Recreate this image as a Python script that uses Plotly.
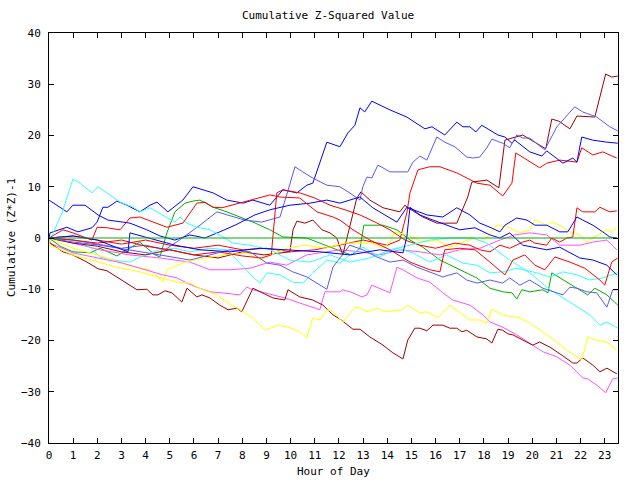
import plotly.graph_objects as go

title_text = "Cumulative Z-Squared Value"
x_title = "Hour of Day"
y_title = "Cumulative (Z*Z)-1"
x_ticks = list(range(0, 24))
y_ticks = [-40, -30, -20, -10, 0, 10, 20, 30, 40]

# ---- series data: (hour, cumulative value) ----
blue1_h = [0, 0.04, 0.74, 1.2, 1.78, 1.99, 2.23, 2.44, 2.81, 3.23, 3.76, 4.18, 4.47, 4.92, 5.54, 5.96, 6.79, 7.36, 8.03, 8.44, 9.14, 9.68, 10.26, 10.67, 10.92, 11.5, 12.04, 12.37, 12.66, 12.87, 13.07, 13.36, 14.11, 14.81, 15.56, 15.85, 16.38, 16.88, 17.13, 17.42, 17.67, 17.91, 18.58, 18.87, 19.16, 19.28, 19.9, 20.4, 20.6, 21.27, 21.68, 21.85, 22.05, 22.5, 23.09, 23.54]
blue1_v = [0, 1.0, 2.1, 1.2, 2.0, 3.1, 6.0, 6.0, 7.2, 6.4, 5.1, 6.4, 7.0, 5.1, 7.4, 10.0, 8.8, 7.4, 6.8, 7.4, 6.4, 9.4, 8.8, 10.3, 10.7, 18.7, 17.8, 20.5, 22.0, 25.4, 24.6, 26.7, 25.0, 23.6, 21.3, 21.7, 20.1, 22.6, 21.7, 21.7, 20.7, 22.0, 20.1, 19.7, 18.5, 19.1, 16.8, 16.0, 17.0, 14.6, 15.6, 14.8, 19.7, 19.1, 18.7, 18.5]

slate1_h = [0, 1, 2, 3, 4, 4.8, 5.4, 6.25, 6.95, 7.36, 8.1, 8.8, 9.56, 9.9, 10.18, 10.5, 10.92, 11.5, 12.04, 12.45, 12.87, 12.99, 13.16, 13.36, 13.61, 13.82, 14.11, 14.85, 15.06, 15.35, 15.64, 16.05, 16.38, 16.8, 17.29, 17.54, 17.83, 18.12, 18.33, 18.78, 19.07, 19.36, 19.61, 19.9, 20.52, 21.02, 21.27, 21.76, 22.09, 22.67, 23.21, 23.54]
slate1_v = [0, -0.4, -1.2, -2.0, -1.4, -2.3, -0.4, 2.5, 5.1, 4.5, 3.5, 3.1, 4.1, 9.4, 13.9, 12.9, 11.7, 10.3, 10.0, 8.8, 7.4, 10.0, 11.9, 11.7, 14.2, 13.7, 12.9, 12.9, 14.8, 16.0, 15.2, 19.7, 18.7, 17.8, 15.8, 15.6, 15.8, 17.6, 19.3, 18.5, 17.6, 20.1, 19.5, 19.5, 17.2, 21.7, 23.0, 25.6, 24.6, 23.6, 21.7, 20.9]

dred1_h = [0, 1, 2, 3, 4, 5, 6, 7, 8, 8.9, 9.97, 10.1, 10.26, 10.59, 10.92, 11.3, 11.63, 11.91, 12.16, 12.74, 12.91, 13.28, 13.82, 14.52, 14.73, 14.85, 15.47, 16.05, 16.88, 17.33, 17.5, 18.12, 18.25, 18.62, 18.87, 19.61, 20.56, 20.81, 21.1, 21.56, 21.85, 22.59, 23.04, 23.29, 23.54]
dred1_v = [0, -1.0, -1.6, -2.7, -3.3, -2.3, -3.3, -3.9, -2.7, -3.3, -2.7, 1.6, 3.3, 2.9, 3.5, 1.6, 1.0, 0, -3.3, 7.8, 9.0, 7.4, 5.9, 5.1, 6.4, 5.9, 4.1, 2.9, 2.9, 8.0, 10.9, 11.3, 10.9, 9.8, 19.1, 20.1, 17.4, 23.2, 22.8, 21.3, 23.8, 23.6, 32.0, 31.4, 31.6]

red1_h = [0, 1, 2, 3, 4, 5, 6, 7, 8, 9, 10, 11, 12, 13, 14, 14.52, 14.81, 14.94, 15.27, 15.76, 16.18, 16.88, 17.71, 18.25, 18.78, 19.16, 19.32, 19.9, 20.31, 20.6, 21.14, 21.85, 22.05, 22.51, 22.92, 23.5]
red1_v = [0, 0.4, -0.4, -1.2, -0.4, -1.4, -2.0, -1.4, -2.3, -2.0, -2.7, -2.3, -1.4, -0.4, -1.4, -0.4, 4.9, 8.8, 13.3, 13.9, 13.9, 12.7, 10.7, 10.3, 8.2, 10.7, 16.6, 14.8, 13.7, 14.6, 15.2, 14.8, 17.6, 16.2, 16.8, 15.6]

red2_h = [0, 1, 2, 3, 4, 5, 6, 7, 8, 8.8, 9.2, 9.43, 9.68, 10.38, 11, 11.63, 12.25, 12.87, 13.5, 14.11, 14.73, 15.35, 16, 16.8, 17.42, 17.83, 18.25, 18.66, 19.07, 19.61, 19.9, 20.11, 20.6, 20.81, 21.14, 21.43, 21.68, 21.85, 22.09, 22.59, 22.8, 23.21, 23.5]
red2_v = [0, -0.4, -1.0, -0.4, -1.6, -2.3, -3.3, -2.7, -3.5, -3.9, -3.3, 8.8, 9.4, 8.8, 7.8, 6.4, 5.5, 4.5, 3.1, 1.6, -0.4, -1.4, -2.0, -1.0, -1.4, -2.3, -2.7, -1.4, -2.0, -0.8, -0.4, -1.0, -1.4, 0, -0.8, 0, 0.2, 5.9, 5.1, 5.1, 6.0, 5.1, 5.3]

yel1_h = [0, 1, 2, 3.23, 4.18, 4.72, 4.88, 5.63, 6.45, 7.28, 8.19, 8.73, 9.14, 9.85, 10.59, 11.42, 12.25, 13.4, 13.82, 14.11, 14.32, 14.81, 15.47, 16.05, 16.59, 17.13, 17.54, 17.96, 18.54, 19.07, 19.49, 19.9, 20.11, 20.6, 20.81, 21.14, 21.56, 21.97, 22.26, 22.51, 23.09, 23.29, 23.5]
yel1_v = [0, -2.0, -3.3, -5.3, -6.2, -8.6, -6.2, -4.7, -3.9, -3.3, -2.9, -4.3, -3.3, -2.0, -1.4, -2.0, -1.0, -1.0, -2.0, -0.8, 1.2, 0.6, -0.8, -0.4, -1.8, -0.8, 0, -0.8, 2.5, 2.0, 1.0, 1.6, 3.5, 2.5, 3.1, 2.5, 1.2, 0.6, -0.8, 0, 1.6, 1.2, 2.0]

blue2_h = [0, 0.74, 0.99, 1.49, 2.03, 2.44, 3.35, 4.05, 4.59, 5.21, 5.83, 6.45, 7.07, 7.7, 8.52, 9.14, 9.97, 10.8, 11.5, 12.04, 12.45, 12.87, 13.4, 14.4, 14.81, 15.64, 16.3, 16.88, 17.42, 17.83, 18.25, 18.66, 18.87, 19.36, 19.78, 20.11, 20.6, 21.14, 21.47, 21.85, 22.09, 22.51, 22.92, 23.21, 23.5]
blue2_v = [7.4, 5.1, 6.4, 6.4, 4.5, 3.5, 2.9, 1.6, 0.4, -0.4, 0.6, 0, 1.2, 2.5, 4.5, 5.5, 6.4, 6.8, 7.4, 6.8, 7.4, 8.0, 5.9, 3.1, 6.0, 4.5, 4.1, 5.9, 4.5, 2.9, 2.1, 1.2, 2.5, 3.9, 3.5, 2.5, 2.5, 1.2, 1.2, 4.1, 3.5, 2.5, 1.2, 0.2, 0]

mag1_h = [0, 1, 2.11, 3.35, 4.59, 5.83, 6.66, 7.49, 8.32, 9.14, 9.84, 10.67, 11.21, 12.04, 12.87, 13.69, 14.52, 15.35, 16.18, 17, 17.83, 18.66, 19.28, 19.9, 20.6, 21.14, 21.97, 22.51, 23.09, 23.5]
mag1_v = [0, -1.0, -2.3, -3.3, -3.9, -4.7, -6.2, -6.2, -5.9, -4.7, -5.3, -3.3, -2.9, -2.3, -2.7, -3.3, -2.3, -2.7, -3.3, -2.3, -2.0, -0.4, 0.6, 1.0, 0.6, -1.4, -1.4, -0.8, -0.4, -2.3]

red3_h = [0, 0.58, 0.99, 1.78, 1.99, 2.4, 2.94, 3.35, 3.76, 4.47, 4.88, 5.54, 6.12, 6.45, 6.79, 7.16, 7.9, 8.44, 9.14, 9.56, 10.38, 11.09, 11.75, 12.04, 12.33, 12.58, 13.28, 14.11, 14.94, 15.76, 16.18, 16.38, 17, 17.63, 18.25, 18.87, 19.2, 19.69, 20.11, 20.52, 20.94, 21.56, 22.18, 22.8, 23.0, 23.29, 23.54]
red3_v = [0, 1.6, 1.0, -0.4, 2.1, 2.0, 1.6, 3.9, 4.1, 2.9, 2.1, 2.9, 6.8, 7.0, 6.0, 5.9, 6.8, 7.4, 8.4, 8.0, 7.8, 5.1, 4.1, 3.5, 2.5, 1.6, -0.4, -2.3, -4.7, -6.2, -6.6, -2.3, -2.0, -2.3, -4.7, -7.2, -4.3, -3.3, -5.3, -6.2, -3.7, -4.7, -5.9, -8.2, -9.2, -4.7, -3.9]

blue3_h = [0, 1, 2, 2.94, 3.27, 3.35, 3.97, 4.47, 5.21, 6.25, 7.49, 8.73, 9.97, 11.21, 12.45, 13.69, 14.65, 14.81, 14.94, 15.35, 15.89, 16.46, 17, 17.63, 18.25, 18.66, 19.07, 19.61, 20.6, 21.14, 21.47, 21.97, 22.51, 23.09, 23.5]
blue3_v = [0, 0.4, -0.4, -2.0, -2.7, 1.0, 0.2, -0.4, -1.4, -2.3, -2.7, -2.0, -2.3, -2.7, -3.3, -2.3, -2.9, 0.2, 6.0, 4.5, 3.5, 2.5, 1.6, 2.0, 0.6, 0, 1.0, -1.4, -2.3, -1.8, -2.7, -3.9, -4.3, -5.3, -7.2]

cyan1_h = [0, 1, 1.7, 2.11, 2.65, 3.35, 3.97, 4.59, 5.21, 5.83, 6.66, 7.36, 7.9, 8.44, 8.73, 9.02, 9.56, 10.09, 10.51, 10.92, 11.5, 12.04, 12.45, 12.99, 13.69, 14.4, 15.06, 15.76, 16.46, 17.13, 17.71, 18.25, 18.78, 19.36, 20.19, 20.73, 21.27, 21.85, 22.38, 22.92, 23.54]
cyan1_v = [0, -0.4, -1.8, -3.7, -4.3, -4.7, -3.3, -2.3, -2.0, -2.7, -2.0, -2.3, -4.9, -7.6, -8.8, -6.8, -7.2, -8.6, -8.8, -6.8, -4.3, -4.9, -3.3, -1.8, -3.7, -2.0, -2.9, -4.7, -3.3, -4.9, -5.3, -6.8, -6.6, -5.9, -6.8, -7.6, -6.6, -7.2, -8.2, -7.8, -6.8]

slate2_h = [0, 1, 2.11, 3.35, 4.59, 5.83, 6.66, 7.49, 8.32, 9.02, 9.56, 10.09, 10.67, 11.09, 11.5, 11.75, 12.04, 12.45, 12.99, 13.57, 14.11, 14.65, 15.23, 15.76, 16.3, 16.88, 17.29, 17.71, 18.25, 18.78, 19.07, 19.49, 19.9, 20.44, 21.02, 21.27, 21.56, 21.85, 22.26, 22.67, 23.09, 23.33, 23.54]
slate2_v = [0, -0.8, -1.4, -2.3, -3.3, -4.3, -3.3, -2.3, -2.7, -4.9, -5.3, -6.6, -7.6, -8.8, -10.0, -5.7, -3.9, -1.4, -2.3, -3.7, -4.7, -4.3, -5.7, -6.6, -7.6, -6.8, -8.2, -8.8, -8.2, -8.8, -7.8, -9.2, -8.2, -9.8, -10.7, -11.1, -9.6, -9.8, -10.5, -10.7, -13.5, -10.1, -10.1]

green1_h = [0, 0.46, 0.99, 1.7, 2.11, 2.81, 3.23, 3.76, 4.39, 4.59, 4.88, 5.21, 5.63, 5.96, 6.25, 6.79, 7.36, 7.9, 8.44, 9.14, 9.68, 10.67, 11.63, 12.25, 12.54, 12.87, 13.03, 13.4, 13.82, 14.4, 14.94, 15.47, 16.18, 16.88, 17.71, 18.25, 18.78, 19.16, 19.36, 19.57, 19.9, 20.44, 20.65, 20.81, 21.27, 21.85, 22.3, 22.59, 23.09, 23.54]
green1_v = [0, -1.6, -2.7, -2.9, -2.0, -3.5, -2.3, -0.8, -3.3, -3.7, 1.0, 5.1, 6.8, 7.2, 7.4, 6.0, 5.1, 4.1, 3.1, 1.6, 0.2, 0, -1.8, -2.9, -3.3, -2.0, 2.5, 2.5, 2.5, 1.6, -0.4, -1.8, -4.3, -5.9, -7.8, -9.8, -10.5, -10.7, -11.9, -10.1, -10.5, -10.1, -10.7, -6.8, -8.2, -9.8, -11.1, -9.8, -11.1, -13.1]

cyan2_h = [0, 0.04, 0.54, 0.99, 1.28, 1.78, 2.03, 2.52, 2.94, 3.48, 3.76, 4.18, 4.47, 4.88, 5.21, 5.42, 5.71, 6.12, 6.66, 7.2, 7.61, 8.32, 9.14, 9.97, 10.8, 11.63, 12.45, 13.28, 14.11, 14.94, 15.76, 16.59, 17.54, 18.12, 19.07, 19.9, 20.73, 21.56, 22.38, 22.8, 23.09, 23.54]
cyan2_v = [0, -0.4, 4.9, 11.5, 10.7, 8.8, 10.0, 8.4, 7.0, 6.0, 5.1, 5.9, 5.1, 3.9, 3.1, 4.1, 2.9, 2.1, 1.6, 0.2, -1.0, -1.4, -2.3, -4.3, -4.7, -3.3, -4.7, -3.9, -2.3, -1.4, -0.4, 0, 0, -1.0, -4.3, -6.8, -10.1, -12.5, -15.0, -17.0, -16.4, -17.6]

yel2_h = [0, 0.04, 0.99, 1.99, 2.81, 3.76, 4.59, 5.3, 5.83, 6.37, 6.95, 7.36, 7.9, 8.44, 8.94, 9.47, 9.89, 10.38, 10.67, 10.92, 11.21, 11.5, 11.75, 12.16, 12.66, 12.87, 13.16, 13.61, 13.9, 14.6, 14.85, 15.35, 15.64, 16.09, 16.59, 17, 17.42, 17.83, 18.12, 18.33, 18.78, 19.49, 19.9, 20.44, 21.02, 21.43, 21.85, 22.05, 22.3, 22.59, 23.09, 23.5]
yel2_v = [0, -1.4, -3.3, -4.7, -5.7, -6.6, -7.6, -8.6, -8.8, -10.1, -11.1, -12.5, -14.0, -15.6, -18.0, -17.0, -17.4, -18.3, -19.5, -15.6, -16.0, -14.0, -14.4, -16.4, -13.5, -13.7, -14.4, -13.7, -14.4, -14.0, -13.1, -14.6, -14.4, -15.6, -13.1, -14.6, -16.0, -16.0, -16.6, -13.9, -15.0, -15.6, -16.6, -18.3, -20.3, -21.9, -23.2, -23.8, -19.3, -19.9, -20.3, -21.9]

dred2_h = [0, 0.04, 0.58, 0.99, 1.57, 2.03, 2.4, 2.81, 3.35, 3.64, 4.05, 4.3, 4.51, 4.8, 5.09, 5.5, 5.71, 6.12, 6.33, 6.66, 7.07, 7.41, 7.78, 7.98, 8.44, 8.73, 9.27, 9.76, 9.89, 10.38, 10.92, 11.34, 11.75, 12.04, 12.58, 12.87, 13.28, 13.82, 14.23, 14.65, 14.85, 15.14, 15.35, 15.64, 15.89, 16.3, 16.59, 16.88, 17.09, 17.29, 17.71, 18.12, 18.33, 18.58, 18.78, 18.99, 19.2, 19.61, 19.9, 20.02, 20.31, 20.73, 21.27, 21.68, 21.85, 22.09, 22.51, 22.8, 23.09, 23.33, 23.5]
dred2_v = [0, -1.0, -2.7, -3.3, -4.7, -6.0, -6.4, -7.6, -9.2, -10.1, -10.0, -11.1, -11.1, -10.3, -10.7, -12.5, -9.8, -11.5, -11.1, -11.7, -13.1, -14.0, -13.7, -14.4, -9.8, -10.5, -11.7, -12.1, -10.1, -11.5, -12.1, -13.1, -15.0, -15.8, -17.8, -17.8, -19.3, -20.9, -22.4, -23.6, -19.9, -17.6, -17.6, -18.1, -17.0, -17.0, -17.6, -17.6, -18.3, -18.0, -19.3, -19.7, -20.5, -17.8, -18.0, -18.7, -18.9, -19.9, -20.7, -20.9, -20.3, -21.3, -23.0, -24.4, -24.4, -23.4, -24.8, -26.1, -25.4, -26.1, -26.5]

mag2_h = [0, 0.04, 0.99, 2.4, 3.06, 3.76, 4.72, 5.3, 5.71, 6.12, 6.66, 7.16, 7.9, 8.19, 8.44, 9.76, 11.21, 11.42, 12.04, 12.16, 12.58, 12.95, 13.16, 13.36, 13.69, 14.11, 14.4, 14.65, 15.23, 15.76, 16.3, 16.71, 17.42, 17.96, 18.25, 18.78, 19.36, 19.9, 20.44, 21.02, 21.56, 22.09, 22.3, 22.67, 23.04, 23.33, 23.54]
mag2_v = [0, -1.0, -2.9, -4.3, -4.9, -5.9, -7.2, -7.8, -8.8, -9.6, -10.5, -10.7, -11.1, -9.6, -10.1, -11.7, -14.0, -10.5, -10.5, -10.1, -10.7, -11.5, -11.1, -9.2, -9.8, -10.7, -5.7, -6.2, -7.8, -8.6, -10.7, -12.1, -13.1, -15.0, -16.4, -17.4, -18.9, -20.5, -22.2, -23.2, -24.8, -27.3, -27.5, -28.7, -30.2, -27.5, -27.3]

green0_h = [0, 23.54]
green0_v = [0, 0]

series = [
    (red1_h, red1_v, "#ff0000"),
    (green1_h, green1_v, "#00b000"),
    (blue1_h, blue1_v, "#0000ff"),
    (mag1_h, mag1_v, "#ff50ff"),
    (cyan1_h, cyan1_v, "#30ffff"),
    (dred1_h, dred1_v, "#a00000"),
    (yel1_h, yel1_v, "#ffff00"),
    (slate1_h, slate1_v, "#5858ff"),
    (red2_h, red2_v, "#ff0000"),
    (blue2_h, blue2_v, "#0000ff"),
    (mag2_h, mag2_v, "#ff50ff"),
    (cyan2_h, cyan2_v, "#30ffff"),
    (dred2_h, dred2_v, "#a00000"),
    (yel2_h, yel2_v, "#ffff00"),
    (slate2_h, slate2_v, "#5858ff"),
    (red3_h, red3_v, "#ff0000"),
    (blue3_h, blue3_v, "#0000ff"),
    (green0_h, green0_v, "#00b000"),
]

fig = go.Figure()
for h, v, c in series:
    fig.add_trace(go.Scatter(x=h, y=v, mode="lines",
                             line=dict(color=c, width=1),
                             hoverinfo="skip", showlegend=False))

font_family = "DejaVu Sans Mono"
axis_common = dict(showgrid=False, zeroline=False, showline=True, linecolor="black",
                   linewidth=1, mirror="ticks", ticks="inside", ticklen=5,
                   tickcolor="black", tickwidth=1, automargin=False,
                   tickfont=dict(family=font_family, size=11, color="black"))

fig.update_layout(
    width=640, height=480,
    margin=dict(l=49, r=22, t=33, b=37),
    paper_bgcolor="white", plot_bgcolor="white",
    xaxis=dict(range=[0, 23.55], tickvals=x_ticks, ticklabelstandoff=2, **axis_common),
    yaxis=dict(range=[-40, 40], tickvals=y_ticks, ticklabelstandoff=5, **axis_common),
    font=dict(family=font_family, size=11, color="black"),
    annotations=[
        dict(text=title_text, xref="paper", yref="paper", x=0.5 - 6 / 569, y=1 + 17 / 410,
             showarrow=False, xanchor="center", yanchor="middle",
             font=dict(family=font_family, size=11, color="black")),
        dict(text=x_title, xref="paper", yref="paper", x=0.5, y=-28 / 410,
             showarrow=False, xanchor="center", yanchor="middle",
             font=dict(family=font_family, size=11, color="black")),
        dict(text=y_title, xref="paper", yref="paper", x=-38 / 569, y=0.5,
             showarrow=False, xanchor="center", yanchor="middle", textangle=-90,
             font=dict(family=font_family, size=11, color="black")),
    ],
)

# remove the browser's default 8 px page margin so the 640x480 figure fills the window
fig.write_html("out.html", config={"displayModeBar": False, "staticPlot": True},
               post_script="document.body.style.margin='0';document.body.style.overflow='hidden';")
